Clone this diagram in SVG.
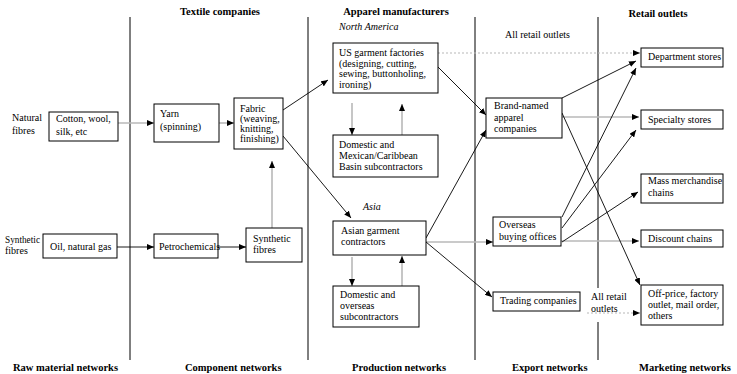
<svg xmlns="http://www.w3.org/2000/svg" width="737" height="374" viewBox="0 0 737 374" font-family="'Liberation Serif', 'DejaVu Serif', serif">
<defs>
<marker id="ah" viewBox="0 0 7 6" markerWidth="7" markerHeight="6" refX="7" refY="3" orient="auto" markerUnits="userSpaceOnUse">
<path d="M0,0 L7,3 L0,6 z" fill="#000"/>
</marker>
<style>
text{font-family:'Liberation Serif','DejaVu Serif',serif;font-size:10px;fill:#000}
.h{font-weight:bold;font-size:10.5px}
.i{font-style:italic}
rect{fill:#fff;stroke:#000;stroke-width:1}
.div{stroke:#000;stroke-width:1;fill:none}
.g{stroke:#b8b8b8;stroke-width:1.6;fill:none;marker-end:url(#ah)}
.b{stroke:#000;stroke-width:0.9;fill:none;marker-end:url(#ah)}
.d{stroke:#b8b8b8;stroke-width:1.2;stroke-dasharray:2,2;fill:none;marker-end:url(#ah)}
</style>
</defs>
<rect x="0" y="0" width="737" height="374" style="fill:#fff;stroke:none"/>
<g id="dividers">
<path class="div" d="M130,17 V360 M308,17 V360 M475,17 V360 M598,17 V288 M598,322 V360"/>
</g>
<g id="headers">
<text class="h" x="220" y="15" text-anchor="middle">Textile companies</text>
<text class="h" x="396" y="15" text-anchor="middle">Apparel manufacturers</text>
<text class="h" x="658" y="17" text-anchor="middle">Retail outlets</text>
<text class="h" x="13" y="371">Raw material networks</text>
<text class="h" x="185" y="371">Component networks</text>
<text class="h" x="352" y="371">Production networks</text>
<text class="h" x="512" y="371">Export networks</text>
<text class="h" x="639" y="371">Marketing networks</text>
<text class="i" x="339" y="30">North America</text>
<text class="i" x="363" y="210">Asia</text>
<text x="505" y="38">All retail outlets</text>
<text x="591" y="300">All retail</text>
<text x="591" y="312">outlets</text>
<text x="12" y="121">Natural</text>
<text x="12" y="134">fibres</text>
<text x="5" y="243" textLength="35" lengthAdjust="spacingAndGlyphs">Synthetic</text>
<text x="5" y="254">fibres</text>
</g>
<g id="connectors">
<path class="g" d="M118,123 H154"/>
<path class="g" d="M219,123 H234"/>
<path class="g" d="M272,228 V161"/>
<path class="g" d="M352,103 V135"/>
<path class="g" d="M402,135 V104"/>
<path class="g" d="M352,257 V286"/>
<path class="g" d="M402,286 V256"/>
<path class="g" d="M426,242 H493"/>
<path class="g" d="M562,117 H639"/>
<path class="g" d="M561,241 H639"/>
<path class="b" d="M117,247 H154"/>
<path class="b" d="M218,247 H246"/>
<path class="b" d="M283,110 L328,80"/>
<path class="b" d="M283,136 L351,218"/>
<path class="b" d="M438,67 L486,115"/>
<path class="b" d="M426,238 L486,130"/>
<path class="b" d="M426,242 L492,297"/>
<path class="b" d="M562,98 L636,61"/>
<path class="b" d="M562,113 L640,285"/>
<path class="b" d="M562,217 L636,68"/>
<path class="b" d="M562,228 L636,130"/>
<path class="b" d="M562,242 L638,192"/>
<path class="d" d="M438,53 H640"/>
<path class="d" d="M587,313 H640"/>
</g>
<g id="cotton"><rect x="49" y="112" width="69" height="29"/><text x="56" y="122">Cotton, wool,</text><text x="56" y="135">silk, etc</text></g>
<g id="yarn"><rect x="154" y="104" width="65" height="38"/><text x="160" y="117">Yarn</text><text x="160" y="130">(spinning)</text></g>
<g id="fabric"><rect x="234" y="98" width="49" height="51"/><text x="240" y="112">Fabric</text><text x="240" y="122">(weaving,</text><text x="240" y="132">knitting,</text><text x="240" y="142">finishing)</text></g>
<g id="oil"><rect x="43" y="234" width="74" height="24"/><text x="50" y="250">Oil, natural gas</text></g>
<g id="petro"><rect x="154" y="234" width="64" height="24"/><text x="159" y="250">Petrochemicals</text></g>
<g id="synth"><rect x="246" y="228" width="56" height="34"/><text x="253" y="242">Synthetic</text><text x="253" y="253">fibres</text></g>
<g id="us"><rect x="333" y="43" width="105" height="50"/><text x="339" y="56">US garment factories</text><text x="339" y="67">(designing, cutting,</text><text x="339" y="77">sewing, buttonholing,</text><text x="339" y="88">ironing)</text></g>
<g id="mexican"><rect x="333" y="135" width="105" height="42"/><text x="339" y="148">Domestic and</text><text x="339" y="159">Mexican/Caribbean</text><text x="339" y="170">Basin subcontractors</text></g>
<g id="asian"><rect x="333" y="221" width="93" height="34"/><text x="341" y="234">Asian garment</text><text x="341" y="245">contractors</text></g>
<g id="overseassub"><rect x="333" y="286" width="86" height="41"/><text x="340" y="298">Domestic and</text><text x="340" y="309">overseas</text><text x="340" y="320">subcontractors</text></g>
<g id="brand"><rect x="486" y="98" width="76" height="40"/><text x="494" y="109">Brand-named</text><text x="494" y="121">apparel</text><text x="494" y="132">companies</text></g>
<g id="buying"><rect x="493" y="217" width="68" height="29"/><text x="499" y="228">Overseas</text><text x="499" y="240">buying offices</text></g>
<g id="trading"><rect x="493" y="292" width="87" height="19"/><text x="500" y="304">Trading companies</text></g>
<g id="dept"><rect x="641" y="48" width="82" height="19"/><text x="648" y="60">Department stores</text></g>
<g id="specialty"><rect x="641" y="110" width="82" height="19"/><text x="648" y="123">Specialty stores</text></g>
<g id="mass"><rect x="641" y="174" width="82" height="29"/><text x="648" y="184">Mass merchandise</text><text x="648" y="196">chains</text></g>
<g id="discount"><rect x="641" y="230" width="82" height="17"/><text x="648" y="242">Discount chains</text></g>
<g id="offprice"><rect x="641" y="285" width="82" height="40"/><text x="648" y="297">Off-price, factory</text><text x="648" y="308">outlet, mail order,</text><text x="648" y="319">others</text></g>
</svg>
